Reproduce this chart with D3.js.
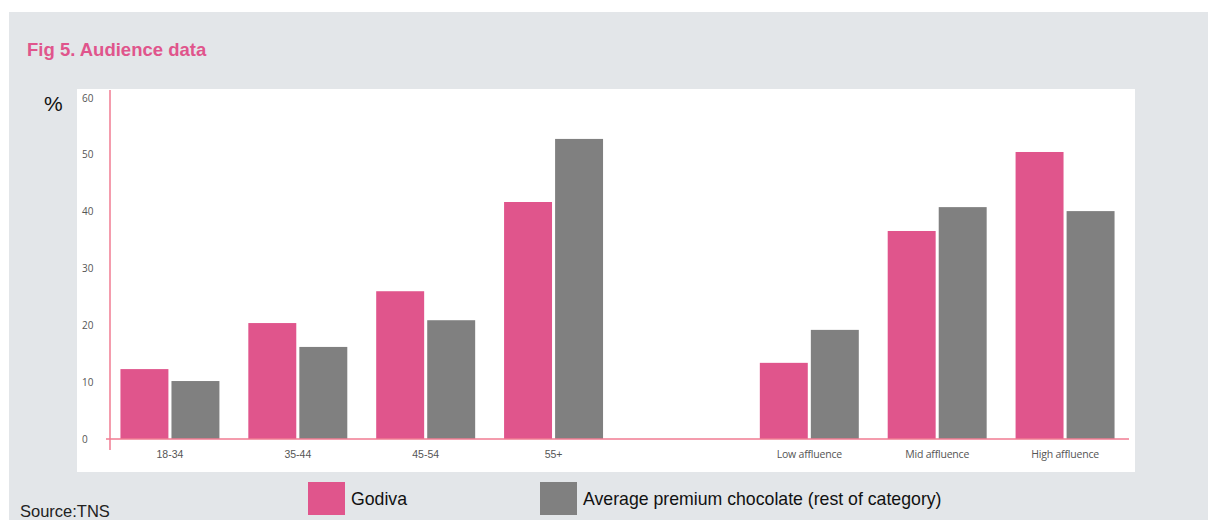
<!DOCTYPE html>
<html>
<head>
<meta charset="utf-8">
<script src="https://cdn.jsdelivr.net/npm/d3@7"></script>
<style>
  body { margin: 0; background: #fff; }
  svg { display: block; }
</style>
</head>
<body>
<script>
// chart data
var ageGroups = ["18-34", "35-44", "45-54", "55+"];
var affluenceGroups = ["Low affluence", "Mid affluence", "High affluence"];
var seriesNames = ["Godiva", "Average premium chocolate (rest of category)"];
var godiva = [12.3, 20.4, 26.0, 41.7, 13.4, 36.6, 50.5];
var average = [10.2, 16.2, 20.9, 52.8, 19.2, 40.8, 40.1];
var yTicks = [0, 10, 20, 30, 40, 50, 60];

var colors = ["#e0558c", "#808080"];

function drawChart() {
  var width = 1208, height = 520;

  const svg = d3
    .select("body")
    .append("svg")
    .attr("width", width)
    .attr("height", height);

  // grey page panel
  svg.append("rect")
    .attr("x", 9).attr("y", 12)
    .attr("width", width - 9).attr("height", height - 12)
    .attr("fill", "#e3e6e9");

  // white plot panel
  svg.append("rect")
    .attr("x", 77).attr("y", 89)
    .attr("width", 1058).attr("height", 383)
    .attr("fill", "#ffffff");

  svg.append("text")
    .attr("x", 27).attr("y", 56)
    .attr("fill", "#e0558c")
    .style("font", "bold 18.5px 'Liberation Sans', Arial, sans-serif")
    .text("Fig 5. Audience data");

  svg.append("text")
    .attr("x", 44).attr("y", 111)
    .attr("fill", "#111")
    .style("font", "21px 'Liberation Sans', Arial, sans-serif")
    .text("%");

  var categories = ageGroups.concat(["gap"], affluenceGroups);
  var rows = ageGroups.concat(affluenceGroups).map(function (c, i) {
    return { cat: c, values: [godiva[i], average[i]] };
  });

  const x = d3.scaleBand()
    .domain(categories)
    .range([106, 1129])
    .paddingInner(0.226)
    .paddingOuter(0.113);

  const x1 = d3.scaleBand()
    .domain([0, 1])
    .range([0, x.bandwidth()])
    .paddingInner(0.06);

  const y = d3.scaleLinear()
    .domain([0, 60])
    .range([439, 98]);

  // bars
  svg.append("g")
    .selectAll("g")
    .data(rows)
    .enter()
    .append("g")
    .attr("transform", function (d) { return "translate(" + x(d.cat) + ",0)"; })
    .selectAll("rect")
    .data(function (d) { return d.values; })
    .enter()
    .append("rect")
    .attr("x", function (d, i) { return x1(i); })
    .attr("y", function (d) { return y(d); })
    .attr("width", x1.bandwidth())
    .attr("height", function (d) { return y(0) - y(d); })
    .attr("fill", function (d, i) { return colors[i]; });

  // y axis labels
  svg.append("g")
    .selectAll("text")
    .data(yTicks)
    .enter()
    .append("text")
    .attr("x", 82)
    .attr("y", function (d) { return y(d) + 3.5; })
    .attr("fill", "#555")
    .style("font", "10px 'Open Sans', sans-serif")
    .text(function (d) { return d; });

  // axis lines
  svg.append("line")
    .attr("x1", 110).attr("x2", 110)
    .attr("y1", 90).attr("y2", 450)
    .attr("stroke", "#f07b92").attr("stroke-width", 1.5);
  svg.append("line")
    .attr("x1", 106).attr("x2", 1129)
    .attr("y1", y(0)).attr("y2", y(0))
    .attr("stroke", "#f07b92").attr("stroke-width", 1.5);

  // category labels
  svg.append("g")
    .selectAll("text")
    .data(categories.filter(function (c) { return c !== "gap"; }))
    .enter()
    .append("text")
    .attr("x", function (d) { return x(d) + x.bandwidth() / 2; })
    .attr("y", 458)
    .attr("text-anchor", "middle")
    .attr("fill", "#555")
    .style("font", function (d) {
      return ageGroups.indexOf(d) >= 0
        ? "10.5px 'Liberation Sans Narrow', 'Liberation Sans', sans-serif"
        : "10.5px 'Open Sans', sans-serif";
    })
    .style("letter-spacing", function (d) { return ageGroups.indexOf(d) >= 0 ? "0px" : "-0.2px"; })
    .text(function (d) { return d; });

  // legend
  var legendX = [308, 540];
  var legend = svg.append("g")
    .selectAll("g")
    .data(seriesNames)
    .enter()
    .append("g")
    .attr("transform", function (d, i) { return "translate(" + legendX[i] + ",482)"; });
  legend.append("rect")
    .attr("width", 37).attr("height", 33)
    .attr("fill", function (d, i) { return colors[i]; });
  legend.append("text")
    .attr("x", 43).attr("y", 23)
    .attr("fill", "#111")
    .style("font", "17.7px 'Liberation Sans Narrow', 'Liberation Sans', sans-serif")
    .text(function (d) { return d; });

  svg.append("text")
    .attr("x", 20).attr("y", 517)
    .attr("fill", "#222")
    .style("font", "16.5px 'Liberation Sans Narrow', 'Liberation Sans', sans-serif")
    .text("Source:TNS");
}

drawChart();
</script>
</body>
</html>
